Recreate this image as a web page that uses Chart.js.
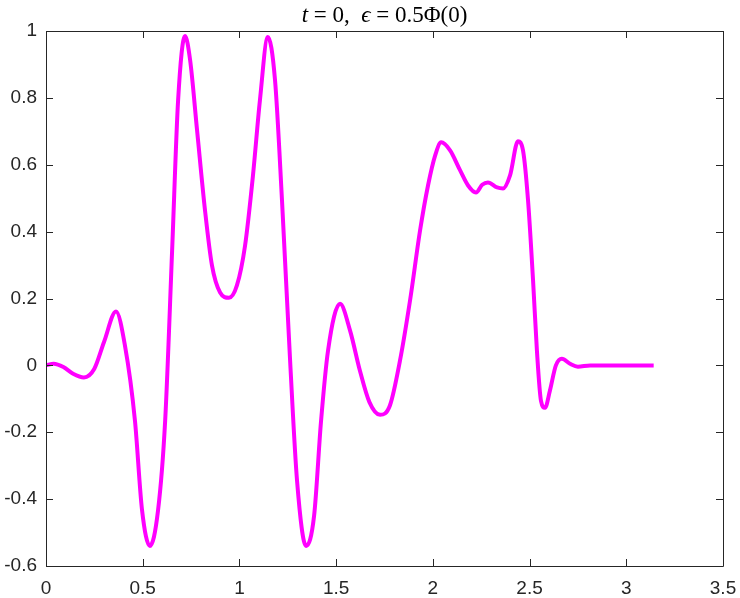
<!DOCTYPE html>
<html>
<head>
<meta charset="utf-8">
<script src="https://cdn.jsdelivr.net/npm/chart.js@4.4.1/dist/chart.umd.min.js"></script>
<style>
html,body{margin:0;padding:0;background:#fff;}
#wrap{width:740px;height:598px;}
</style>
</head>
<body>
<div id="wrap"><canvas id="c" width="740" height="598"></canvas></div>
<script>
// Title pieces: [text, italic?]
const titleParts = [["t", true], [" = 0,  ", false], ["\u03F5", true], [" = 0.5\u03A6(0)", false]];
const xValues = [0, 0.040, 0.090, 0.140, 0.196, 0.250, 0.300, 0.362, 0.408, 0.460, 0.496, 0.537, 0.579, 0.616, 0.652, 0.683, 0.719, 0.745, 0.781, 0.822, 0.858, 0.900, 0.946, 0.987, 1.029, 1.070, 1.106, 1.147, 1.184, 1.220, 1.262, 1.298, 1.345, 1.386, 1.422, 1.458, 1.520, 1.572, 1.623, 1.672, 1.727, 1.778, 1.830, 1.882, 1.934, 1.975, 2.012, 2.043, 2.089, 2.141, 2.182, 2.223, 2.255, 2.285, 2.332, 2.363, 2.399, 2.440, 2.466, 2.492, 2.518, 2.538, 2.559, 2.580, 2.605, 2.636, 2.667, 2.709, 2.750, 2.813, 2.894, 2.994, 3.094, 3.1416];
const yValues = [0, 0.005, -0.005, -0.025, -0.036, -0.01, 0.07, 0.161, 0.06, -0.166, -0.43, -0.54, -0.435, -0.166, 0.343, 0.793, 0.985, 0.913, 0.703, 0.464, 0.299, 0.218, 0.202, 0.239, 0.358, 0.568, 0.793, 0.982, 0.853, 0.494, 0.014, -0.346, -0.54, -0.45, -0.166, 0.044, 0.184, 0.104, -0.016, -0.11, -0.148, -0.12, 0.014, 0.194, 0.404, 0.538, 0.628, 0.667, 0.643, 0.583, 0.538, 0.517, 0.54, 0.547, 0.532, 0.529, 0.568, 0.67, 0.643, 0.494, 0.254, 0.044, -0.106, -0.127, -0.076, 0, 0.02, 0.005, -0.004, 0, 0, 0, 0, 0];
const xTicks = [0, 0.5, 1, 1.5, 2, 2.5, 3, 3.5];
const yTicks = [-0.6, -0.4, -0.2, 0, 0.2, 0.4, 0.6, 0.8, 1];

const points = xValues.map((x, i) => ({x: x, y: yValues[i]}));
const axisColor = '#262626';
const tickFont = { family: 'Liberation Sans', size: 19 };

const boxTicks = {
  id: 'boxTicks',
  afterDraw(chart) {
    const ctx = chart.ctx, a = chart.chartArea;
    const xs = chart.scales.x, ys = chart.scales.y;
    ctx.save();
    ctx.strokeStyle = axisColor;
    ctx.lineWidth = 1;
    ctx.beginPath();
    ctx.rect(Math.round(a.left) + 0.5, Math.round(a.top) + 0.5, Math.round(a.right - a.left), Math.round(a.bottom - a.top));
    const L = 7;
    xTicks.forEach(v => {
      const px = Math.round(xs.getPixelForValue(v)) + 0.5;
      ctx.moveTo(px, a.bottom); ctx.lineTo(px, a.bottom - L);
      ctx.moveTo(px, a.top); ctx.lineTo(px, a.top + L);
    });
    yTicks.forEach(v => {
      const py = Math.round(ys.getPixelForValue(v)) + 0.5;
      ctx.moveTo(a.left, py); ctx.lineTo(a.left + L, py);
      ctx.moveTo(a.right, py); ctx.lineTo(a.right - L, py);
    });
    ctx.stroke();

    // Title with mixed italic segments
    const size = 23;
    const fontFor = it => (it ? 'italic ' : '') + size + 'px "Liberation Serif"';
    let total = 0;
    const widths = titleParts.map(p => { ctx.font = fontFor(p[1]); const w = ctx.measureText(p[0]).width; total += w; return w; });
    let x = (a.left + a.right) / 2 - total / 2;
    ctx.fillStyle = '#000';
    ctx.textBaseline = 'alphabetic';
    ctx.textAlign = 'left';
    titleParts.forEach((p, i) => { ctx.font = fontFor(p[1]); ctx.fillText(p[0], x, 22); x += widths[i]; });
    ctx.restore();
  }
};

const fmt = v => String(Math.round(v * 10) / 10);

new Chart(document.getElementById('c'), {
  type: 'line',
  data: {
    datasets: [{
      data: points,
      borderColor: '#FF00FF',
      borderWidth: 4,
      pointRadius: 0,
      fill: false,
      cubicInterpolationMode: 'monotone'
    }]
  },
  options: {
    responsive: false,
    animation: false,
    devicePixelRatio: 1,
    layout: { padding: { left: 0, right: 17, top: 31, bottom: 0 } },
    plugins: {
      legend: { display: false },
      tooltip: { enabled: false },
      title: { display: false }
    },
    scales: {
      x: {
        type: 'linear',
        min: 0, max: 3.5,
        afterBuildTicks: s => { s.ticks = xTicks.map(v => ({value: v})); },
        afterFit: s => { s.height = 32; s.paddingRight = 0; s.paddingLeft = 0; },
        grid: { display: false, drawTicks: false },
        border: { display: false },
        ticks: { color: axisColor, padding: 11, maxRotation: 0, font: tickFont, callback: v => fmt(v) }
      },
      y: {
        type: 'linear',
        min: -0.6, max: 1,
        afterBuildTicks: s => { s.ticks = yTicks.map(v => ({value: v})); },
        afterFit: s => { s.width = 46; s.paddingTop = 0; s.paddingBottom = 0; },
        grid: { display: false, drawTicks: false },
        border: { display: false },
        ticks: { color: axisColor, padding: 9, font: tickFont, callback: v => fmt(v) }
      }
    }
  },
  plugins: [boxTicks]
});
</script>
</body>
</html>
